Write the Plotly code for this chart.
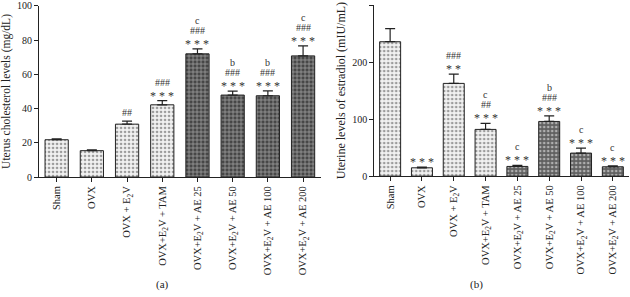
import plotly.graph_objects as go

categories = ["Sham", "OVX", "OVX + E<sub>2</sub>V", "OVX+E<sub>2</sub>V + TAM",
              "OVX+E<sub>2</sub>V + AE 25", "OVX+E<sub>2</sub>V + AE 50",
              "OVX+E<sub>2</sub>V + AE 100", "OVX+E<sub>2</sub>V + AE 200"]

chol_mean = [21.8, 15.4, 30.9, 42.2, 72.0, 47.9, 47.5, 70.8]
chol_err = [0.5, 0.5, 1.8, 2.5, 2.9, 2.3, 2.9, 5.9]
chol_marks = [[], [], ["##"], ["***", "###"], ["***", "###", "c"],
              ["***", "###", "b"], ["***", "###", "b"], ["***", "###", "c"]]

estr_mean = [235.7, 14.6, 162.6, 81.9, 17.0, 95.9, 40.4, 16.4]
estr_err = [22.8, 1.4, 16.4, 10.5, 1.7, 9.9, 8.6, 1.6]
estr_marks = [[], ["***"], ["**", "###"], ["***", "##", "c"], ["***", "c"],
              ["***", "###", "b"], ["***", "c"], ["***", "c"]]

FONT = "Liberation Serif"
light = [True, True, True, True, False, False, False, False]

fig = go.Figure()

def add_panel(means, errs, xa, ya, dark_fill, dark_shape, dark_fg):
    fills = ["#f2f2f2" if l else dark_fill for l in light]
    shapes = ["." if l else dark_shape for l in light]
    fgs = ["#8a8a8a" if l else dark_fg for l in light]
    fig.add_trace(go.Bar(
        x=categories, y=means, xaxis=xa, yaxis=ya, width=0.66,
        marker=dict(color=fills, line=dict(color="#222", width=1),
                    pattern=dict(shape=shapes, fgcolor=fgs, size=4, solidity=0.35)),
        error_y=dict(type="data", symmetric=False, array=errs,
                     arrayminus=[0] * len(errs), color="#222", thickness=1.2, width=5),
        showlegend=False, hoverinfo="skip"))

add_panel(chol_mean, chol_err, "x", "y", "#454545", "+", "#9a9a9a")
add_panel(estr_mean, estr_err, "x2", "y2", "#606060", ".", "#262626")

annots = []
for means, errs, marks, xr, yr in [(chol_mean, chol_err, chol_marks, "x", "y"),
                                   (estr_mean, estr_err, estr_marks, "x2", "y2")]:
    for i, mk in enumerate(marks):
        for j, s in enumerate(mk):
            star = s.startswith("*")
            annots.append(dict(
                x=categories[i], y=means[i] + errs[i], xref=xr, yref=yr,
                text=" ".join(s) if star else s, showarrow=False, yanchor="bottom",
                yshift=(-4 if star else 1) + 10 * j,
                font=dict(family=FONT, size=10 if not star else 12, color="#333")))

annots.append(dict(x=0.245, y=0.015, xref="paper", yref="paper", text="(a)",
                   showarrow=False, font=dict(family=FONT, size=11, color="#222")))
annots.append(dict(x=0.77, y=0.015, xref="paper", yref="paper", text="(b)",
                   showarrow=False, font=dict(family=FONT, size=11, color="#222")))

axis_common = dict(showline=True, linecolor="#222", linewidth=1, ticks="outside",
                   ticklen=4, tickcolor="#222", showgrid=False, zeroline=False,
                   automargin=False)

fig.update_layout(
    width=630, height=297, margin=dict(l=0, r=0, t=0, b=0, autoexpand=False),
    plot_bgcolor="white", paper_bgcolor="white", bargap=0.34,
    xaxis=dict(domain=[0.062, 0.509], anchor="y", tickangle=-90,
               range=[-0.5, 7.5], tickfont=dict(family=FONT, size=10.5, color="#222"),
               **axis_common),
    yaxis=dict(domain=[0.404, 0.980], anchor="x", range=[0, 100], dtick=20,
               tickfont=dict(family=FONT, size=10, color="#222"),
               title=dict(text="Uterus cholesterol levels (mg/dL)", standoff=4,
                          font=dict(family=FONT, size=11.5, color="#222")),
               **axis_common),
    xaxis2=dict(domain=[0.594, 0.998], anchor="y2", tickangle=-90,
                range=[-0.5, 7.5], tickfont=dict(family=FONT, size=10.5, color="#222"),
                **axis_common),
    yaxis2=dict(domain=[0.407, 0.983], anchor="x2", range=[0, 300], dtick=100,
                tickfont=dict(family=FONT, size=10, color="#222"),
                title=dict(text="Uterine levels of estradiol (mIU/mL)", standoff=4,
                           font=dict(family=FONT, size=12, color="#222")),
                **axis_common),
    annotations=annots,
)

fig.write_html("out.html", config={"displayModeBar": False},
               post_script="document.body.style.margin='0';document.body.style.overflow='hidden';")
